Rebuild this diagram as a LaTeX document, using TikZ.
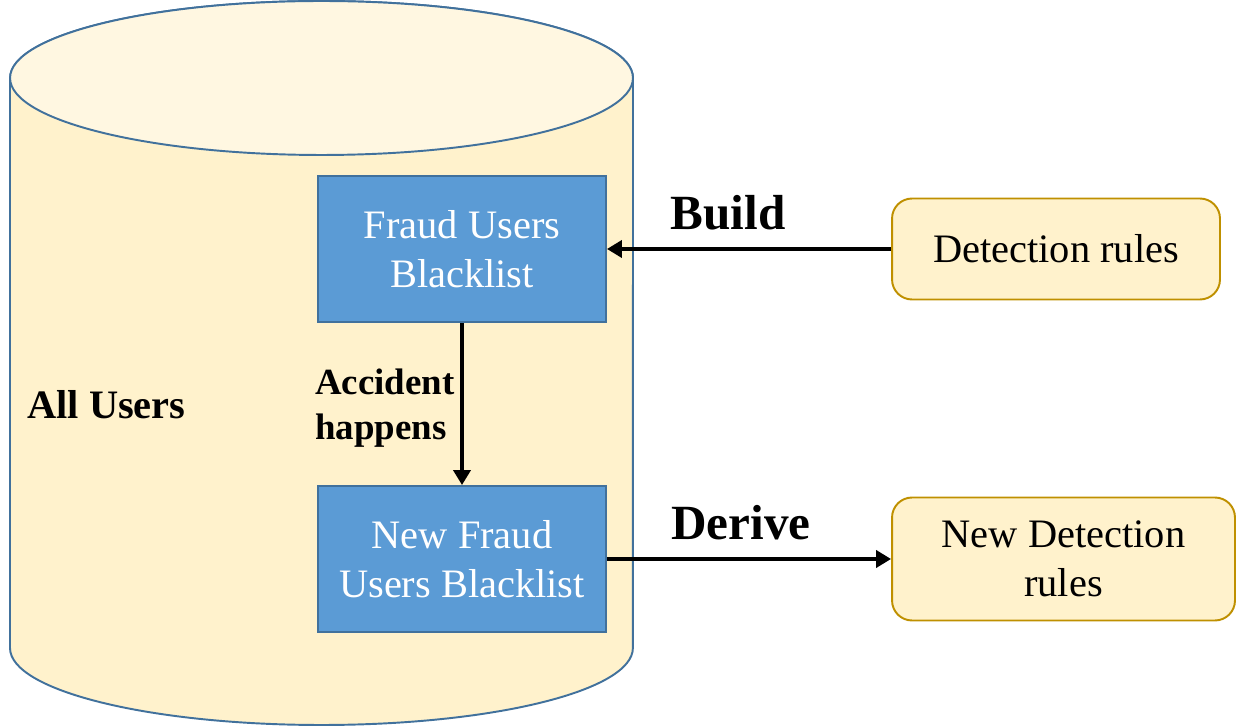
\documentclass[tikz,border=0pt]{standalone}
\usepackage{fontspec}
\setmainfont{Liberation Serif}
\usetikzlibrary{arrows.meta, positioning, calc}
\definecolor{cylfill}{HTML}{FFF2CC}
\definecolor{cyltop}{HTML}{FFF7E1}
\definecolor{cylline}{HTML}{41719C}
\definecolor{bluefill}{HTML}{5B9BD5}
\definecolor{rulefill}{HTML}{FFF2CC}
\definecolor{ruleline}{HTML}{BF9000}
\tikzset{
  listbox/.style={draw=cylline, line width=1.1pt, fill=bluefill, text=white, align=center,
    minimum width=5.76cm, minimum height=2.92cm, font=\fontsize{23}{28}\selectfont},
  rulebox/.style={draw=ruleline, line width=1.1pt, fill=rulefill, rounded corners=0.4cm, align=center,
    minimum height=#1, font=\fontsize{23}{28}\selectfont},
  arr/.style={-{Triangle[length=0.3cm, width=0.34cm]}, line width=2.4pt},
  lbl/.style={font=\bfseries\fontsize{#1}{25.5}\selectfont, inner sep=0pt},
}

\begin{document}
\begin{tikzpicture}[x=0.02cm, y=0.02cm]
    \useasboundingbox (0,0) rectangle (1236,727);
    % cylinder of all users
    \draw[cylline, line width=1.1pt, fill=cylfill] (10,649) -- (10,79)
      arc[start angle=180, end angle=360, x radius=6.23cm, y radius=1.54cm] -- (633,649)
      arc[start angle=0, end angle=180, x radius=6.23cm, y radius=1.54cm] -- cycle;
    \draw[cylline, line width=1.1pt, fill=cyltop] (321.5,649) ellipse[x radius=6.23cm, y radius=1.54cm];
    \node[lbl=23, anchor=west] (all) at (27,322) {All Users};
    % blacklists
    \node[listbox] (fraud) at (462,478) {Fraud Users\\Blacklist};
    \node[listbox] (newfraud) at (462,168) {New Fraud\\Users Blacklist};
    % rules
    \node[rulebox=2.02cm, minimum width=6.56cm] (rules) at (1056,478) {Detection rules};
    \node[rulebox=2.46cm, minimum width=6.86cm] (newrules) at (1063.5,168) {New Detection\\rules};
    % arrows
    \draw[arr] (rules.west) -- (fraud.east);
    \draw[arr] (fraud.south) -- (newfraud.north);
    \draw[arr] (newfraud.east) -- (newrules.west);
    \node[lbl=28] (build) at (728,514) {Build};
    \node[lbl=28] (derive) at (741,204) {Derive};
    \node[lbl=21, anchor=east, align=left] (accident) at (455,319) {Accident\\happens};
  \end{tikzpicture}
\end{document}
